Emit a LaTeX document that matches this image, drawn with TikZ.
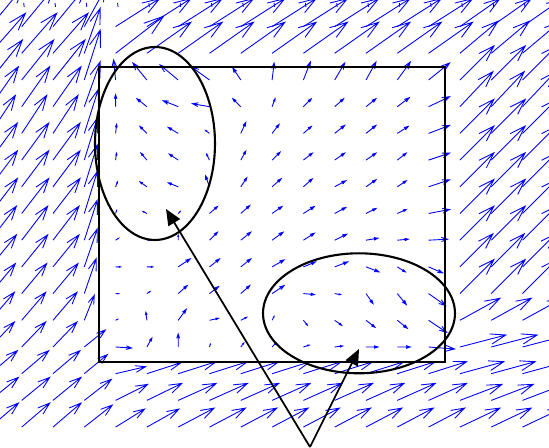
\documentclass[tikz,border=0pt]{standalone}
\usetikzlibrary{arrows.meta,shapes.geometric}
\tikzset{
  qvline/.style={draw={rgb,255:red,0;green,0;blue,255}, line width=0.5pt},
  frame/.style={draw=black, line width=1.2pt},
  ring/.style={ellipse, draw=black, line width=1.2pt, inner sep=0pt},
  pointer/.style={draw=black, line width=1pt, -{Triangle[length=0.32cm,width=0.27cm]}},
}
\newcommand\qvec[4]{%
  \pgfmathsetmacro\qxa{#1+(#3)}%
  \pgfmathsetmacro\qya{#2+(#4)}%
  \pgfmathsetmacro\qhx{\qxa-0.33*((#3)+0.33*(#4))}%
  \pgfmathsetmacro\qhy{\qya-0.33*((#4)-0.33*(#3))}%
  \pgfmathsetmacro\qgx{\qxa-0.33*((#3)-0.33*(#4))}%
  \pgfmathsetmacro\qgy{\qya-0.33*((#4)+0.33*(#3))}%
  \draw[qvline] (#1,#2) -- (\qxa,\qya) (\qhx,\qhy) -- (\qxa,\qya) -- (\qgx,\qgy);%
}
\newcommand\qgrid[4]{%
  \pgfmathsetmacro\qcx{115.6+31.3*(#1)}%
  \pgfmathsetmacro\qcy{80+26.7*(#2)}%
  \qvec{\qcx}{\qcy}{#3}{#4}%
}
\begin{document}
\begin{tikzpicture}[x=0.02cm,y=-0.02cm]
\useasboundingbox (0,0) rectangle (549,448);
\fill[white] (0,0) rectangle (549,448);
\begin{scope}
\clip (0,0) rectangle (549,448);
% interior of the box
\foreach \k/\m/\u/\v in {
 0/0/-2/-20, 1/0/-14/-17, 2/0/-18/-15, 3/0/-18/-13, 4/0/-8/-12, 5/0/2/-17, 6/0/7/-18, 7/0/10/-17, 8/0/10/-18, 9/0/13/-18, 10/0/21/-17,
 0/1/0/-12, 1/1/-10/-8, 2/1/-15/-6, 3/1/-17/-3, 4/1/-8/-8, 5/1/3/-8, 6/1/8/-8, 7/1/9/-8, 8/1/10/-8, 9/1/12/-9, 10/1/21/-10,
 0/2/1/-9, 1/2/-7/-7, 2/2/-10/-6, 3/2/-4/-3, 4/2/5/-11, 5/2/7/-9, 6/2/8/-7, 7/2/10/-8, 8/2/10/-8, 9/2/11/-7, 10/2/21/-8,
 0/3/1/-7, 1/3/-6/-7, 2/3/-9/-6, 3/3/-3/-6, 4/3/5/-9, 5/3/8/-8, 6/3/9/-7, 7/3/10/-7, 8/3/10/-7, 9/3/9/-7, 10/3/21/-7,
 0/4/2/-5, 1/4/-7/-5, 2/4/-10/-4, 3/4/-4/-11, 4/4/6/-9, 5/4/9/-8, 6/4/9/-8, 7/4/11/-6, 8/4/10/-7, 9/4/9/-6, 10/4/21/-7,
 0/5/1/-3, 1/5/-4/-2, 2/5/2/-2, 3/5/8/-7, 4/5/9/-8, 5/5/10/-7, 6/5/11/-7, 7/5/11/-6, 8/5/10/-5, 9/5/9/-4, 10/5/21/-4,
 0/6/3/-2, 1/6/4/0, 2/6/0/-5, 3/6/8/-8, 4/6/10/-8, 5/6/11/-8, 6/6/11/-7, 7/6/12/-6, 8/6/12/-2, 9/6/11/-1, 10/6/19/-1,
 0/7/5/0, 1/7/6/0, 2/7/12/-8, 3/7/10/-8, 4/7/10/-8, 5/7/12/-7, 6/7/12/-5, 7/7/13/-5, 8/7/13/5, 9/7/8/5, 10/7/14/6,
 0/8/3/0, 1/8/3/-2, 2/8/9/-8, 3/8/9/-7, 4/8/9/-8, 5/8/12/-8, 6/8/11/1, 7/8/6/1, 8/8/7/10, 9/8/9/11, 10/8/17/12,
 0/9/2/-1, 1/9/-1/-8, 2/9/8/-11, 3/9/9/-2, 4/9/6/-3, 5/9/2/-4, 6/9/4/5, 7/9/7/5, 8/9/9/7, 9/9/10/8, 10/9/18/12,
 0/10/16/1, 1/10/5/-9, 2/10/0/-13, 3/10/1/-3, 4/10/3/-4, 5/10/4/-4, 6/10/6/-2, 7/10/8/-1, 8/10/12/0, 9/10/13/0, 10/10/26/2}
 {\qgrid{\k}{\m}{\u}{\v}}
% left of the box
\foreach \m/\u/\v in {-2/33/-40, -1/35/-40, 0/32/-40, 1/28/-40, 2/25/-38, 3/27/-37, 4/27/-36, 5/27/-35, 6/26/-34, 7/26/-32, 8/25/-30, 9/24/-28, 10/24/-25, 11/27/-23, 12/28/-23, 13/28/-24}
 {\foreach \k in {-4,-3,-2}{\qgrid{\k}{\m}{\u}{\v}}}
\foreach \m/\u/\v in {-2/22/-40, -1/16/-45, 0/16/-50, 1/16/-45, 2/14/-44, 3/13/-42, 4/13/-42, 5/13/-42, 6/13/-40, 7/13/-38, 8/12/-35, 9/10/-25, 10/21/-17, 11/23/-19, 12/27/-21, 13/28/-22}
 {\qgrid{-1}{\m}{\u}{\v}}
% above the box
\foreach \k in {1,...,10}{\qgrid{\k}{-1}{44}{-31}}
\qgrid{0}{-1}{48}{-37}
\foreach \k in {0,...,10}{\qgrid{\k}{-2}{44}{-28}}
% right of the box
\foreach \m/\u/\v in {-2/40/-28, -1/38/-32, 0/34/-34, 1/33/-35, 2/34/-34, 3/34/-34, 4/34/-34, 5/34/-34, 6/34/-34, 7/33/-33, 8/34/-34, 9/40/-22, 10/46/-12, 11/44/-12, 12/42/-16, 13/40/-19}
 {\foreach \k in {11,12,13}{\qgrid{\k}{\m}{\u}{\v}}}
% below the box
\qgrid{0}{11}{30}{-7} \qgrid{1}{11}{34}{-11}
\qgrid{0}{12}{32}{-16} \qgrid{1}{12}{35}{-17}
\qgrid{0}{13}{29}{-18} \qgrid{1}{13}{32}{-18}
\foreach \k in {2,...,10}{\qgrid{\k}{11}{38}{-12}\qgrid{\k}{12}{38}{-17}\qgrid{\k}{13}{36}{-19}}
% top row of tiny vectors
\foreach \k in {-3,...,13}{\pgfmathsetmacro\qtx{117.6+31.3*\k}\draw[qvline] (\qtx,3) -- ++(0.5,4);}
\end{scope}
\draw[frame] (99,67) rectangle (445,362);
\node[ring, minimum width=2.4cm, minimum height=3.86cm] (e1) at (155,143.5) {};
\node[ring, minimum width=3.84cm, minimum height=2.4cm] (e2) at (359,313.3) {};
\coordinate (src) at (310,447);
\coordinate (t1) at (166,209);
\coordinate (t2) at (359,349);
\draw[pointer] (src) -- (t1);
\draw[pointer] (src) -- (t2);
\end{tikzpicture}
\end{document}
